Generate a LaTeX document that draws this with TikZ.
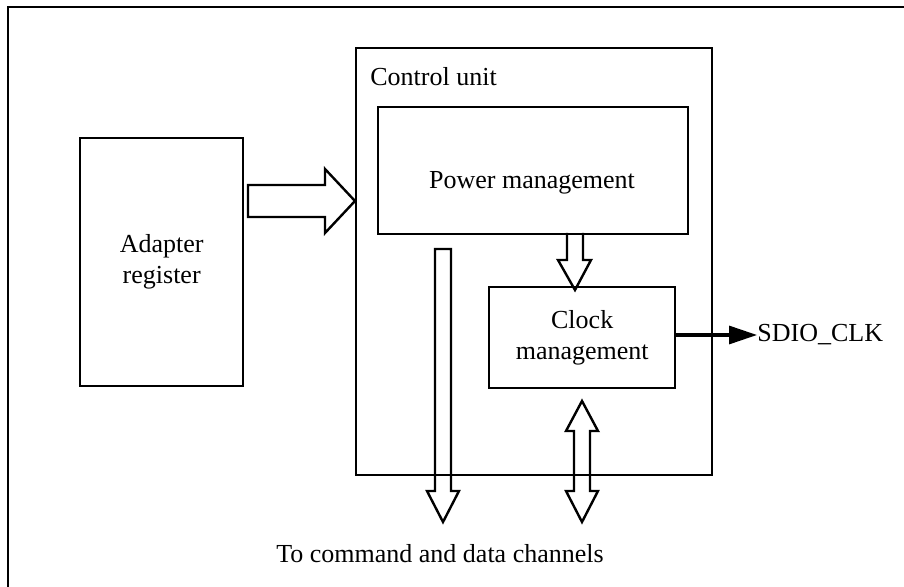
\documentclass[tikz,border=0pt]{standalone}
\usepackage{fontspec}
\setmainfont{Liberation Serif}
\usetikzlibrary{arrows.meta}
\begin{document}
\begin{tikzpicture}[x=0.5pt,y=-0.5pt,
  box/.style={draw,line width=1.2pt,inner sep=0pt},
  lbl/.style={font=\fontsize{13}{15.5}\selectfont,align=center,inner sep=0pt},
  hollow/.style={draw,line width=1.2pt,line join=miter,fill=none}]
\useasboundingbox (0,0) rectangle (904,587);
\begin{scope}
\clip (0,0) rectangle (904,587);
\draw[line width=1.2pt] (8,620) -- (8,7) -- (940,7);
\end{scope}
% boxes
\node[box,minimum width=81.5pt,minimum height=124pt,anchor=north west] (adapter) at (79,137) {};
\node[lbl] (adaptertxt) at (adapter.center) {Adapter\\register};
\node[box,minimum width=178pt,minimum height=213.5pt,anchor=north west] (ctrl) at (355,47) {};
\node[lbl,anchor=base west] (ctrltxt) at (370,86) {Control unit};
\node[box,minimum width=155pt,minimum height=63.5pt,anchor=north west] (power) at (377,106) {};
\node[lbl] (powertxt) at (532,183) {Power management};
\node[box,minimum width=93pt,minimum height=50.5pt,anchor=north west] (clock) at (488,286) {};
\node[lbl] (clocktxt) at (clock.center) {Clock\\management};
\node[lbl,anchor=west] (sdio) at (757,335) {SDIO\_CLK};
\node[lbl] (bottom) at (440,554) {To command and data channels};
% SDIO arrow
\draw[line width=1.6pt,-{Triangle[length=14pt,width=9pt]}] (clock.east |- sdio.west) -- (sdio.west);
% right hollow arrow into control unit
\draw[hollow] (248,185) -- (325,185) -- (325,169) -- (ctrl.west |- 0,201) -- (325,233) -- (325,217) -- (248,217) -- cycle;
% small down arrow power -> clock
\draw[hollow] (567,233) -- (567,260) -- (558,260) -- (575,290) -- (591,260) -- (583,260) -- (583,233);
% long down arrow
\draw[hollow] (435,249) -- (451,249) -- (451,491) -- (459,491) -- (443,522) -- (427,491) -- (435,491) -- cycle;
% double arrow
\draw[hollow] (582,401) -- (598,431) -- (590,431) -- (590,491) -- (598,491) -- (582,522) -- (566,491) -- (574,491) -- (574,431) -- (566,431) -- cycle;
\end{tikzpicture}
\end{document}
